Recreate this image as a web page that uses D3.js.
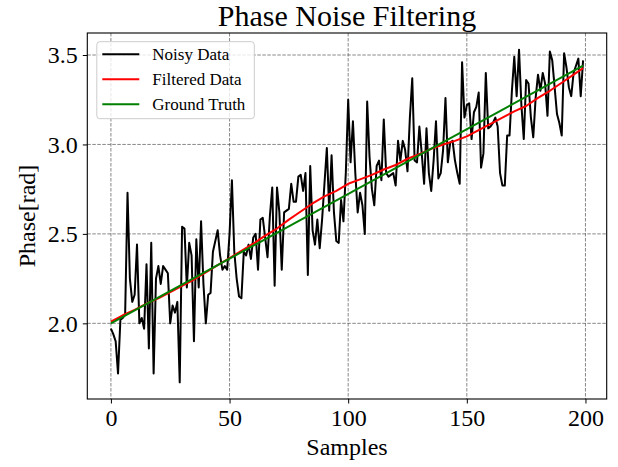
<!DOCTYPE html>
<html>
<head>
<meta charset="utf-8">
<script src="https://cdn.jsdelivr.net/npm/d3@7"></script>
<style>
  body { margin: 0; background: #fff; }
  svg { display: block; font-family: "Liberation Serif", "Times New Roman", serif; }
</style>
</head>
<body>
<svg id="chart"></svg>
<script>
// noisy phase samples, index 0..199
const noisy = [
  1.97, 1.94, 1.90, 1.72, 2.02, 2.03, 2.05, 2.73, 2.25, 2.12,
  2.16, 2.44, 2.00, 2.03, 1.97, 2.33, 1.86, 2.45, 1.72, 2.25,
  2.32, 2.22, 2.32, 2.30, 2.28, 2.00, 2.10, 2.06, 2.12, 1.67,
  2.54, 2.53, 2.20, 2.45, 2.38, 1.90, 2.47, 2.20, 2.57, 2.22,
  2.00, 2.16, 2.17, 2.40, 2.46, 2.52, 2.38, 2.30, 2.32, 2.30,
  2.50, 2.80, 2.40, 2.25, 2.15, 2.14, 2.40, 2.38, 2.44, 2.36,
  2.48, 2.50, 2.30, 2.58, 2.59, 2.48, 2.37, 2.60, 2.76, 2.21,
  2.76, 2.62, 2.30, 2.62, 2.63, 2.64, 2.78, 2.68, 2.68, 2.82,
  2.83, 2.74, 2.84, 2.27, 2.88, 2.52, 2.44, 2.58, 2.42, 2.58,
  2.78, 2.98, 2.63, 2.94, 2.62, 2.46, 2.45, 2.69, 2.57, 2.84,
  3.25, 2.90, 3.13, 2.84, 2.62, 2.73, 2.66, 2.50, 3.24, 2.93,
  2.75, 2.66, 2.88, 2.91, 2.80, 3.14, 2.84, 2.82, 2.83, 2.84,
  2.77, 3.02, 2.91, 3.02, 2.97, 2.85, 3.15, 3.37, 2.91, 2.90,
  3.10, 2.95, 2.78, 3.09, 2.84, 2.74, 2.91, 3.13, 2.81, 2.84,
  2.97, 3.26, 2.90, 3.01, 3.02, 2.91, 2.84, 2.78, 3.46, 3.15,
  3.22, 3.23, 3.03, 3.18, 3.21, 3.29, 2.87, 2.95, 3.40, 3.09,
  3.10, 3.12, 3.15, 3.10, 2.84, 2.77, 2.77, 3.05, 3.05, 3.30,
  3.49, 3.27, 3.53, 3.22, 3.03, 3.36, 3.34, 3.15, 3.04, 3.26,
  3.39, 3.30, 3.40, 3.34, 3.16, 3.52, 3.47, 3.32, 3.17, 3.12,
  3.05, 3.51, 3.43, 3.32, 3.27, 3.40, 3.44, 3.48, 3.27, 3.47
];

// filtered estimate, read every 5 samples
const filteredIdx = [0, 5, 10, 15, 20, 25, 30, 35, 40, 45, 50, 55, 60, 65, 70, 75, 80, 85, 90, 95,
  100, 105, 110, 115, 120, 125, 130, 135, 140, 145, 150, 155, 160, 165, 170, 175, 180, 185, 190, 195, 199];
const filtered = [2.01, 2.045, 2.075, 2.11, 2.14, 2.175, 2.21, 2.245, 2.285, 2.325,
  2.365, 2.405, 2.445, 2.49, 2.53, 2.58, 2.625, 2.67, 2.71, 2.74,
  2.78, 2.805, 2.83, 2.86, 2.885, 2.92, 2.945, 2.975, 3.0, 3.02,
  3.045, 3.08, 3.115, 3.15, 3.185, 3.215, 3.26, 3.3, 3.345, 3.39, 3.427];

// ground truth is a straight ramp
const truthIdx = [0, 199];
const truth = [2.0, 3.44];

const xTicks = [0, 50, 100, 150, 200];
const yTicks = [2.0, 2.5, 3.0, 3.5];
const labels = ['Noisy Data', 'Filtered Data', 'Ground Truth'];
const colors = ['#000000', '#ff0000', '#008000'];

const width = 618;
const height = 467;
const margin = { top: 33, right: 11.3, bottom: 68, left: 87.3 };
const innerW = width - margin.left - margin.right;
const innerH = height - margin.top - margin.bottom;

const svg = d3.select('#chart')
  .attr('width', width)
  .attr('height', height);

// matplotlib style 5% margins
const yMin = d3.min(noisy), yMax = d3.max(noisy);
const yPad = (yMax - yMin) * 0.05;
const xPad = (noisy.length - 1) * 0.05;

const xScale = d3.scaleLinear()
  .domain([-xPad, noisy.length - 1 + xPad])
  .range([0, innerW]);

const yScale = d3.scaleLinear()
  .domain([yMin - yPad, yMax + yPad])
  .range([innerH, 0]);

const chart = svg.append('g')
  .attr('transform', `translate(${margin.left}, ${margin.top})`);

// grid
const grid = chart.append('g');
grid.selectAll('.gx')
  .data(xTicks)
  .enter()
  .append('line')
  .attr('x1', (d) => xScale(d))
  .attr('x2', (d) => xScale(d))
  .attr('y1', 0)
  .attr('y2', innerH);
grid.selectAll('.gy')
  .data(yTicks)
  .enter()
  .append('line')
  .attr('x1', 0)
  .attr('x2', innerW)
  .attr('y1', (d) => yScale(d))
  .attr('y2', (d) => yScale(d));
grid.selectAll('line')
  .attr('stroke', '#555')
  .attr('stroke-opacity', 0.7)
  .attr('stroke-width', 1)
  .attr('stroke-dasharray', '3.5,1.5');

// lines
const line = d3.line()
  .x((d) => xScale(d[0]))
  .y((d) => yScale(d[1]));

const series = [
  noisy.map((v, i) => [i, v]),
  filteredIdx.map((x, i) => [x, filtered[i]]),
  truthIdx.map((x, i) => [x, truth[i]])
];

chart.selectAll('.series')
  .data(series)
  .enter()
  .append('path')
  .attr('d', line)
  .attr('fill', 'none')
  .attr('stroke', (d, i) => colors[i])
  .attr('stroke-width', 2)
  .attr('stroke-linejoin', 'round');

// axes
const xAxis = chart.append('g')
  .attr('transform', `translate(0, ${innerH})`)
  .call(d3.axisBottom(xScale).tickValues(xTicks).tickFormat(d3.format('d')).tickSizeOuter(0).tickSize(4.5).tickPadding(5));

const yAxis = chart.append('g')
  .call(d3.axisLeft(yScale).tickValues(yTicks).tickFormat(d3.format('.1f')).tickSizeOuter(0).tickSize(4.5).tickPadding(5));

[xAxis, yAxis].forEach((ax) => {
  ax.select('.domain').remove();
  ax.selectAll('line').attr('stroke', '#000').attr('stroke-width', 1);
  ax.selectAll('text')
    .attr('fill', '#000')
    .style('font-size', '24px')
    .style('font-family', '"Liberation Serif", "Times New Roman", serif');
});

// frame
chart.append('rect')
  .attr('width', innerW)
  .attr('height', innerH)
  .attr('fill', 'none')
  .attr('stroke', '#000')
  .attr('stroke-width', 1.1);

// legend
const legend = chart.append('g')
  .attr('transform', 'translate(9.5, 8.7)');
legend.append('rect')
  .attr('width', 157.5)
  .attr('height', 77)
  .attr('rx', 3)
  .attr('fill', '#fff')
  .attr('fill-opacity', 0.8)
  .attr('stroke', '#ccc')
  .attr('stroke-width', 1);

const items = legend.selectAll('.item')
  .data(labels)
  .enter()
  .append('g')
  .attr('transform', (d, i) => `translate(0, ${12.5 + i * 25})`);
items.append('line')
  .attr('x1', 5.5)
  .attr('x2', 42.5)
  .attr('stroke', (d, i) => colors[i])
  .attr('stroke-width', 2);
items.append('text')
  .attr('x', 55.5)
  .attr('y', 6)
  .style('font-size', '17px')
  .text((d) => d);

// titles
svg.append('text')
  .attr('x', margin.left + innerW / 2)
  .attr('y', 26)
  .attr('text-anchor', 'middle')
  .style('font-size', '30px')
  .text('Phase Noise Filtering');

svg.append('text')
  .attr('x', margin.left + innerW / 2)
  .attr('y', 455)
  .attr('text-anchor', 'middle')
  .style('font-size', '24px')
  .text('Samples');

svg.append('text')
  .attr('transform', `translate(35, ${margin.top + innerH / 2}) rotate(-90)`)
  .attr('text-anchor', 'middle')
  .style('font-size', '24px')
  .text('Phase[rad]');
</script>
</body>
</html>
